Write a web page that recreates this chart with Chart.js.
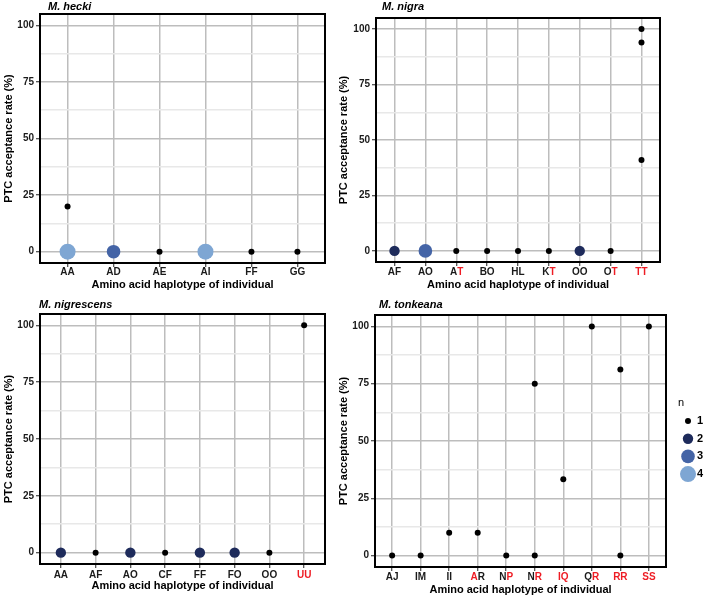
<!DOCTYPE html>
<html><head><meta charset="utf-8">
<script src="https://cdn.jsdelivr.net/npm/chart.js@4/dist/chart.umd.min.js"></script>
<style>
html,body{margin:0;padding:0;background:#fff;width:709px;height:597px;overflow:hidden;position:relative}
canvas{position:absolute}
</style></head><body>
<canvas id="c1" width="335" height="297" style="left:0px;top:0px"></canvas>
<canvas id="c2" width="374" height="297" style="left:335px;top:0px"></canvas>
<canvas id="c3" width="335" height="297" style="left:0px;top:300px"></canvas>
<canvas id="c4" width="374" height="297" style="left:335px;top:300px"></canvas>
<script>
// ---------- DATA ----------
const heckiCats = ['AA','AD','AE','AI','FF','GG'];
const heckiRed  = ['00','00','00','00','00','00'];
const heckiHap  = ['AA','AA','AD','AE','AI','FF','GG'];
const heckiRate = [20,0,0,0,0,0,0];
const heckiN    = [1,4,3,1,4,1,1];

const nigraCats = ['AF','AO','AT','BO','HL','KT','OO','OT','TT'];
const nigraRed  = ['00','00','01','00','00','01','00','01','11'];
const nigraHap  = ['AF','AO','AT','BO','HL','KT','OO','OT','TT','TT','TT'];
const nigraRate = [0,0,0,0,0,0,0,0,100,94,41];
const nigraN    = [2,3,1,1,1,1,2,1,1,1,1];

const nigrescensCats = ['AA','AF','AO','CF','FF','FO','OO','UU'];
const nigrescensRed  = ['00','00','00','00','00','00','00','11'];
const nigrescensHap  = ['AA','AF','AO','CF','FF','FO','OO','UU'];
const nigrescensRate = [0,0,0,0,0,0,0,100];
const nigrescensN    = [2,1,2,1,2,2,1,1];

const tonkeanaCats = ['AJ','IM','II','AR','NP','NR','IQ','QR','RR','SS'];
const tonkeanaRed  = ['00','00','00','10','01','01','11','01','11','11'];
const tonkeanaHap  = ['AJ','IM','II','AR','NP','NR','NR','IQ','QR','RR','RR','SS'];
const tonkeanaRate = [0,0,10,10,0,75,0,33.3,100,81.25,0,100];
const tonkeanaN    = [1,1,1,1,1,1,1,1,1,1,1,1];

const yMajorTicks = [0,25,50,75,100];
const yMinorTicks = [12.5,37.5,62.5,87.5];
const nLevels = [1,2,3,4];
const yTitle = 'PTC acceptance rate (%)';
const xTitle = 'Amino acid haplotype of individual';

// ---------- STYLE ----------
const FONT = "'Liberation Sans', Arial, Helvetica, sans-serif";
Chart.defaults.font.family = FONT;
const nColor  = {1:'#000000', 2:'#1e2b5b', 3:'#4464a6', 4:'#7ea6d3'};
const nRadius = {1:3, 2:5.2, 3:6.8, 4:8};
const RED = '#ee1c24';
const MAJOR = '#bdbdbd', MINOR = '#e8e8e8';

function makePanel(cfg) {
  const {id, title, cats, red, hap, rate, n, pad, yW, xH, titleX, titleY, tickY, xTitlePad, legend} = cfg;
  const pts = hap.map((h,i)=>({x: cats.indexOf(h), y: rate[i], n: n[i]}));
  const plugin = {
    id: 'deco_'+id,
    afterDraw(chart) {
      const c = chart.ctx, a = chart.chartArea, xs = chart.scales.x;
      c.save();
      // frame
      c.strokeStyle = '#000'; c.lineWidth = 2;
      c.strokeRect(a.left, a.top, a.right - a.left, a.bottom - a.top);
      // x tick labels with mixed colours
      c.font = 'bold 10px ' + FONT;
      c.textBaseline = 'middle';
      c.textAlign = 'left';
      xs.ticks.forEach(t => {
        const i = t.value; const lab = cats[i]; const m = red[i];
        const px = xs.getPixelForValue(i);
        const w = c.measureText(lab).width;
        let x = px - w/2;
        for (let k=0;k<lab.length;k++){
          c.fillStyle = m[k]==='1' ? RED : '#1a1a1a';
          c.fillText(lab[k], x, a.bottom + tickY);
          x += c.measureText(lab[k]).width;
        }
      });
      // panel title
      c.fillStyle = '#000';
      c.font = 'italic bold 11px ' + FONT;
      c.fillText(title, titleX, titleY);
      // legend
      if (legend) {
        c.font = '11px ' + FONT;
        c.fillStyle = '#000';
        c.fillText('n', legend.x, legend.y);
        c.font = 'bold 11px ' + FONT;
        nLevels.forEach((lv, k) => {
          const cy = legend.y + 18 + k*17.7;
          c.beginPath(); c.fillStyle = nColor[lv];
          c.arc(legend.x + 10, cy, nRadius[lv], 0, Math.PI*2); c.fill();
          c.fillStyle = '#000';
          c.fillText(String(lv), legend.x + 19, cy);
        });
      }
      c.restore();
    }
  };
  return new Chart(document.getElementById(id), {
    type: 'scatter',
    data: { datasets: [{ data: pts,
      pointRadius: ctx => nRadius[ctx.raw.n],
      pointBackgroundColor: ctx => nColor[ctx.raw.n],
      pointBorderWidth: 0, pointHoverRadius: ctx => nRadius[ctx.raw.n] }] },
    options: {
      responsive: false, animation: false, events: [],
      devicePixelRatio: 1,
      layout: { padding: pad },
      plugins: { legend: {display:false}, tooltip: {enabled:false}, title:{display:false} },
      scales: {
        x: {
          type: 'linear', min: -0.6, max: cats.length - 0.4,
          afterBuildTicks: s => { s.ticks = cats.map((c,i)=>({value:i})); },
          afterFit: s => { s.height = xH; },
          ticks: { callback: v => cats[v] ?? '', color: 'rgba(0,0,0,0)', maxRotation: 0, autoSkip: false, font:{size:10, weight:'bold'} },
          grid: { color: MAJOR, lineWidth: 1.5, tickLength: 4, tickColor: '#222', tickWidth: 1 },
          border: { display: false },
          title: { display: true, text: xTitle, color: '#000', font: {size: 11, weight: 'bold'}, padding: {top: 0, bottom: xTitlePad} }
        },
        y: {
          min: -5, max: 105,
          afterBuildTicks: s => { s.ticks = yMajorTicks.concat(yMinorTicks).sort((a,b)=>a-b).map(v=>({value:v})); },
          afterFit: s => { s.width = yW; },
          ticks: { callback: v => yMajorTicks.includes(v) ? String(v) : '', color: '#1a1a1a', padding: 2, font:{size:10, weight:'bold'} },
          grid: {
            color: ctx => (ctx.tick && yMajorTicks.includes(ctx.tick.value)) ? MAJOR : MINOR,
            tickColor: ctx => (ctx.tick && yMajorTicks.includes(ctx.tick.value)) ? '#222' : 'rgba(0,0,0,0)',
            lineWidth: 1.5, tickLength: 4, tickWidth: 1
          },
          border: { display: false },
          title: { display: true, text: yTitle, color: '#000', font: {size: 11, weight: 'bold'}, padding: {top: 2, bottom: 0} }
        }
      }
    },
    plugins: [plugin]
  });
}

makePanel({id:'c1', title:'M. hecki', cats:heckiCats, red:heckiRed, hap:heckiHap, rate:heckiRate, n:heckiN,
  pad:{left:0,right:10,top:14,bottom:0}, yW:40, xH:34, titleX:48, titleY:7, tickY:9, xTitlePad:5});
makePanel({id:'c2', title:'M. nigra', cats:nigraCats, red:nigraRed, hap:nigraHap, rate:nigraRate, n:nigraN,
  pad:{left:0,right:49,top:18,bottom:0}, yW:41, xH:35, titleX:47, titleY:7, tickY:10, xTitlePad:5});
makePanel({id:'c3', title:'M. nigrescens', cats:nigrescensCats, red:nigrescensRed, hap:nigrescensHap, rate:nigrescensRate, n:nigrescensN,
  pad:{left:0,right:10,top:14,bottom:0}, yW:40, xH:33, titleX:39, titleY:5, tickY:11, xTitlePad:4});
makePanel({id:'c4', title:'M. tonkeana', cats:tonkeanaCats, red:tonkeanaRed, hap:tonkeanaHap, rate:tonkeanaRate, n:tonkeanaN,
  pad:{left:0,right:43,top:15,bottom:0}, yW:40, xH:30, titleX:44, titleY:5, tickY:10, xTitlePad:0,
  legend:{x:343, y:103}});
</script>
</body></html>
